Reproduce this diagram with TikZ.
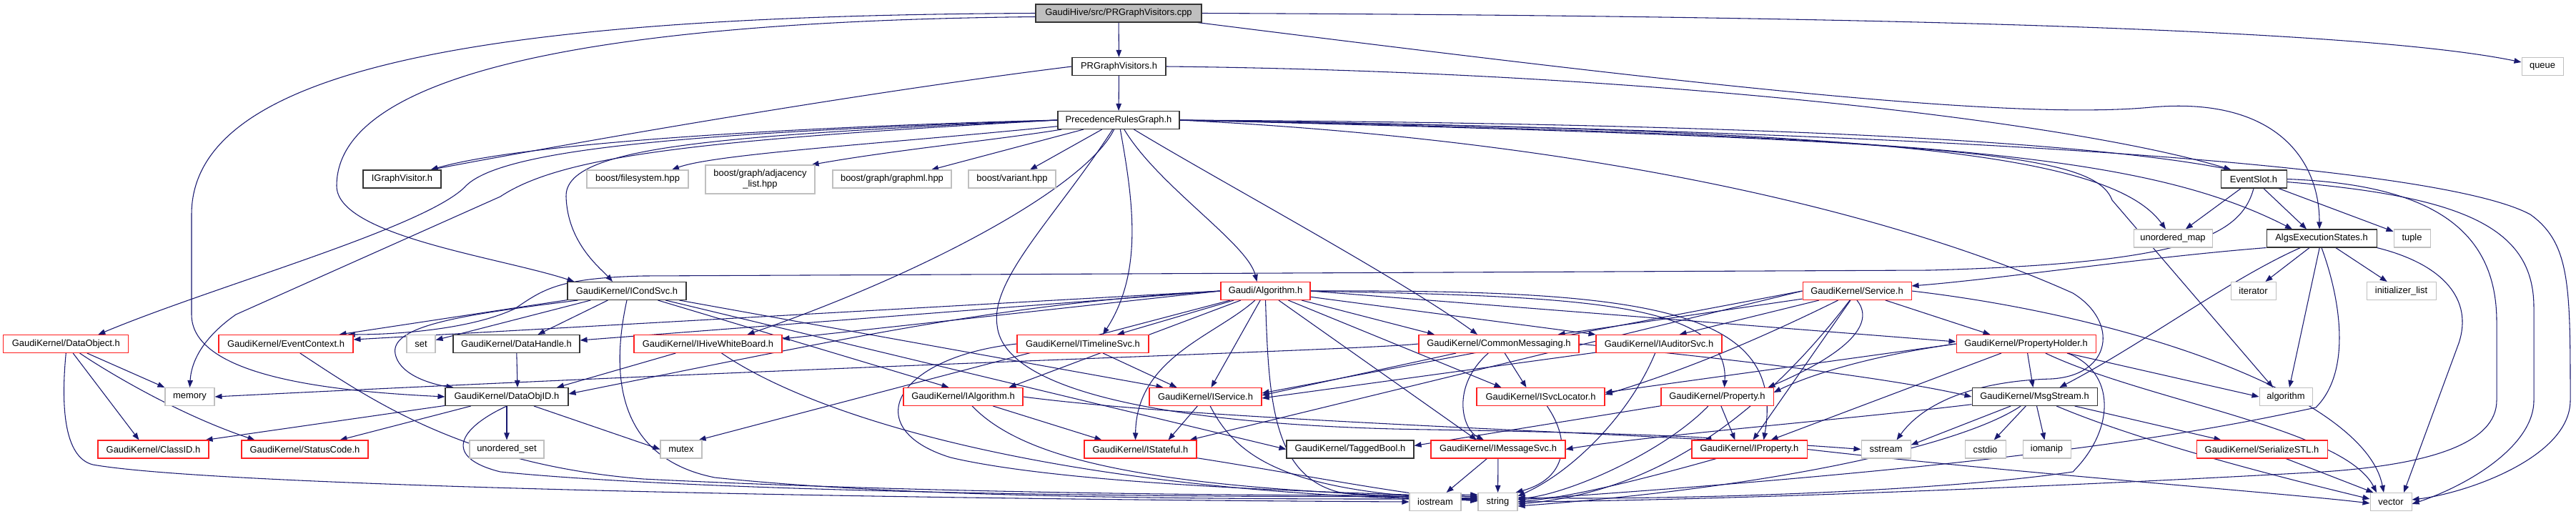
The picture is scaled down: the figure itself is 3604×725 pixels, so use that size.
\documentclass[tikz,border=0pt]{standalone}
\usepackage{fontspec}
\setmainfont{Liberation Sans}
\usetikzlibrary{arrows.meta,calc}
\pgfdeclarelayer{bg}
\pgfdeclarelayer{edgel}
\pgfsetlayers{bg,edgel,main}
\definecolor{edgec}{HTML}{191970}
\definecolor{rbord}{HTML}{FF2020}
\definecolor{gbord}{HTML}{BFBFBF}
\newcommand\dfont{\fontsize{9.7}{11.2}\selectfont}
\newcommand\nd[6]{\node[#1,minimum width={#5*0.75pt}] (#2) at (#3,#4) {#6};}
\tikzset{
  basebox/.style={rectangle, inner sep=0pt, minimum height=18.75pt, font=\dfont, line width=0.8pt, fill=white, text=black, align=center},
  kbox/.style={basebox, draw=black!80},
  rbox/.style={basebox, draw=rbord},
  gbox/.style={basebox, draw=gbord},
  cbox/.style={basebox, draw=black!80, fill=gray!50},
  ed/.style={draw=edgec, line width=0.8pt, -{Triangle[length=7.5pt,width=5.6pt]}}
}
\begin{document}
\begin{tikzpicture}[x=0.75pt,y=-0.75pt]
\begin{pgfonlayer}{bg}
\fill[white] (0,0) rectangle (3604,725);
\end{pgfonlayer}
\useasboundingbox (0,0) rectangle (3604,725);
% row 0-4
\nd{cbox}{cpp}{1565}{18.5}{232}{GaudiHive/src/PRGraphVisitors.cpp}
\nd{kbox}{prgv}{1565.5}{93}{131}{PRGraphVisitors.h}
\nd{gbox}{queue}{3557}{93}{58}{queue}
\nd{kbox}{prg}{1565}{168}{170}{PrecedenceRulesGraph.h}
\nd{kbox}{igv}{562.5}{250.5}{109}{IGraphVisitor.h}
\nd{gbox}{bfs}{892}{250.5}{142}{boost/filesystem.hpp}
\node[gbox,minimum width={153*0.75pt},minimum height=30pt] (badj) at (1063.5,251) {boost/graph/adjacency\\\_list.hpp};
\nd{gbox}{bgml}{1248}{250.5}{166}{boost/graph/graphml.hpp}
\nd{gbox}{bvar}{1416}{250.5}{122}{boost/variant.hpp}
\nd{kbox}{eslot}{3153}{250.5}{92}{EventSlot.h}
\nd{gbox}{umap}{3040}{333.5}{110}{unordered\_map}
\nd{kbox}{aes}{3248}{333.5}{154}{AlgsExecutionStates.h}
\nd{gbox}{tuple}{3374.5}{333.5}{51}{tuple}
% row 5
\nd{kbox}{icond}{877}{407}{166}{GaudiKernel/ICondSvc.h}
\nd{rbox}{galg}{1770.5}{407}{125}{Gaudi/Algorithm.h}
\nd{rbox}{svc}{2598}{407}{152}{GaudiKernel/Service.h}
\nd{gbox}{iter}{3152.5}{407}{63}{iterator}
\nd{gbox}{initl}{3359.5}{407}{97}{initializer\_list}
% row 6
\nd{rbox}{dobj}{92.3}{481}{175}{GaudiKernel/DataObject.h}
\nd{rbox}{evctx}{400}{481}{188}{GaudiKernel/EventContext.h}
\nd{gbox}{set}{589}{481}{40}{set}
\nd{kbox}{dhand}{722.5}{481}{177}{GaudiKernel/DataHandle.h}
\nd{rbox}{ihwb}{990.5}{481}{207}{GaudiKernel/IHiveWhiteBoard.h}
\nd{rbox}{itl}{1515}{481}{184}{GaudiKernel/ITimelineSvc.h}
\nd{rbox}{cmsg}{2097}{481}{224}{GaudiKernel/CommonMessaging.h}
\nd{rbox}{iaud}{2321}{481}{176}{GaudiKernel/IAuditorSvc.h}
\nd{rbox}{phold}{2834.5}{481}{195}{GaudiKernel/PropertyHolder.h}
% row 7
\nd{gbox}{memory}{265.5}{555}{69}{memory}
\nd{kbox}{dobjid}{709}{555}{172}{GaudiKernel/DataObjID.h}
\nd{rbox}{ialg}{1347.5}{555}{167}{GaudiKernel/IAlgorithm.h}
\nd{rbox}{isvc}{1686.5}{555}{157}{GaudiKernel/IService.h}
\nd{rbox}{isvcl}{2155.5}{555}{179}{GaudiKernel/ISvcLocator.h}
\nd{rbox}{prop}{2402.5}{555}{157}{GaudiKernel/Property.h}
\nd{kbox}{msgs}{2846.5}{555}{175}{GaudiKernel/MsgStream.h}
\nd{gbox}{algo}{3198}{555}{74}{algorithm}
% row 8
\nd{rbox}{clsid}{214.5}{628.5}{155}{GaudiKernel/ClassID.h}
\nd{rbox}{stc}{426.5}{628.5}{177}{GaudiKernel/StatusCode.h}
\nd{gbox}{uset}{709}{628.5}{104}{unordered\_set}
\nd{gbox}{mutex}{953}{628.5}{58}{mutex}
\nd{rbox}{istf}{1595.5}{628.5}{157}{GaudiKernel/IStateful.h}
\nd{kbox}{tbool}{1889}{628.5}{178}{GaudiKernel/TaggedBool.h}
\nd{rbox}{imsg}{2096}{628.5}{188}{GaudiKernel/IMessageSvc.h}
\nd{rbox}{iprop}{2447.5}{628.5}{161}{GaudiKernel/IProperty.h}
\nd{gbox}{sstream}{2638.5}{628.5}{69}{sstream}
\nd{gbox}{cstdio}{2777.5}{628.5}{57}{cstdio}
\nd{gbox}{iomanip}{2863.5}{628.5}{67}{iomanip}
\nd{rbox}{serstl}{3164.5}{628.5}{183}{GaudiKernel/SerializeSTL.h}
% row 9
\nd{gbox}{iostream}{2008}{702}{72}{iostream}
\nd{gbox}{string}{2095.5}{702}{55}{string}
\nd{gbox}{vector}{3345}{702}{58}{vector}

\begin{pgfonlayer}{edgel}
% cpp
\draw[ed] (cpp) -- (prgv);
\draw[ed] (cpp.west) .. controls (700,22) and (268,90) .. (268,300) -- (268,440) .. controls (268,530) and (480,548) .. (dobjid.west);
\draw[ed] ($(cpp.west)+(0,5)$) .. controls (800,30) and (471,110) .. (471,260) .. controls (471,330) and (700,360) .. ($(icond.north west)+(10,0)$);
\draw[ed] (cpp.east) .. controls (2600,22) and (3300,40) .. ($(queue.west)+(0,-6)$);
\draw[ed] ($(cpp.south east)+(-6,0)$) .. controls (2300,110) and (2800,170) .. (3010,150) .. controls (3180,135) and (3245,220) .. ($(aes.north)+(-3,0)$);
% prgv
\draw[ed] (prgv) -- (prg);
\draw[ed] (prgv.west) .. controls (1200,130) and (800,200) .. ($(igv.north)+(40,0)$);
\draw[ed] (prgv.east) .. controls (2300,100) and (2900,170) .. ($(eslot.north west)+(15,0)$);
% prg
\draw[ed] (prg.west) .. controls (1200,175) and (750,195) .. ($(igv.north)+(40,0)$);
\draw[ed] (prg) .. controls (1250,200) and (1000,215) .. ($(bfs.north)+(48,0)$);
\draw[ed] (prg) .. controls (1400,195) and (1250,210) .. ($(badj.north east)+(-5,0)$);
\draw[ed] (prg) -- ($(bgml.north)+(55,0)$);
\draw[ed] (prg) -- ($(bvar.north)+(25,0)$);
\draw[ed] (prg.west) .. controls (1000,185) and (700,205) .. (650,262) .. controls (590,320) and (300,400) .. ($(dobj.north)+(45,0)$);
\draw[ed] (prg.west) .. controls (1000,190) and (790,205) .. (792,275) .. controls (794,340) and (840,375) .. ($(icond.north)+(-20,0)$);
\draw[ed] (prg.west) .. controls (1000,195) and (790,215) .. (700,275) -- (330,440) .. controls (290,468) and (268,500) .. (memory.north);
\draw[ed] (prg) .. controls (1520,260) and (1300,380) .. ($(ihwb.north)+(55,0)$);
\draw[ed] (prg) .. controls (1585,280) and (1600,380) .. ($(itl.north)+(28,0)$);
\draw[ed] (prg) .. controls (1620,260) and (1745,340) .. ($(galg.north)+(-12,0)$);
\draw[ed] (prg) .. controls (1700,250) and (1960,390) .. ($(cmsg.north)+(-30,0)$);
\draw[ed] (prg) .. controls (1480,300) and (1385,390) .. (1395,455) .. controls (1405,560) and (1700,597) .. (2000,601) .. controls (2250,605) and (2400,612) .. ($(iprop.north west)+(18,0)$);
\draw[ed] (prg.east) .. controls (2400,172) and (2900,195) .. ($(eslot.north west)+(15,0)$);
\draw[ed] (prg.east) .. controls (2600,182) and (2950,210) .. ($(umap.north)+(-10,0)$);
\draw[ed] (prg.east) .. controls (2700,190) and (3000,215) .. ($(aes.north)+(-41,0)$);
\draw[ed] (prg.east) .. controls (2750,195) and (2930,215) .. (2955,280) -- ($(algo.north)+(-18,0)$);
\draw[ed] (prg.east) .. controls (2800,185) and (3420,235) .. (3540,300) .. controls (3596,340) and (3596,400) .. (3596,560) .. controls (3596,640) and (3450,690) .. ($(vector.east)+(0,-3)$);
\draw[ed] (prg.east) .. controls (2300,200) and (2700,320) .. (2900,410) .. controls (2965,450) and (2955,525) .. (2870,530) .. controls (2760,533) and (2690,565) .. ($(sstream.north)+(15,0)$);
% eslot
\draw[ed] (eslot) -- (umap);
\draw[ed] (eslot) -- ($(aes.north)+(-21,0)$);
\draw[ed] (eslot) -- (tuple);
\draw[ed] (eslot.south) .. controls (3135,330) and (3060,368) .. (2700,378) -- (900,386) .. controls (780,389) and (760,405) .. (720,432) .. controls (660,460) and (560,468) .. ($(evctx.north east)+(-8,0)$);
\draw[ed] (eslot.east) .. controls (3400,258) and (3493,320) .. (3493,450) -- (3493,560) .. controls (3493,620) and (3400,650) .. (3250,660) .. controls (2900,680) and (2400,700) .. (string.east);
\draw[ed] ($(eslot.east)+(0,4)$) .. controls (3450,275) and (3545,320) .. (3545,430) -- (3545,560) .. controls (3545,625) and (3450,680) .. ($(vector.east)+(0,3)$);
% aes
\draw[ed] (aes.south west) .. controls (3000,360) and (2800,390) .. ($(svc.east)+(0,-7)$);
\draw[ed] (aes) .. controls (3120,390) and (3000,480) .. ($(msgs.north)+(35,0)$);
\draw[ed] (aes) -- (iter);
\draw[ed] (aes) -- (initl);
\draw[ed] (aes) -- ($(algo.north)+(5,0)$);
\draw[ed] (aes.south) .. controls (3275,420) and (3290,520) .. (3240,570) .. controls (3100,600) and (2850,650) .. ($(string.east)+(0,-3)$);
\draw[ed] (aes.south east) .. controls (3420,370) and (3460,420) .. (3440,480) -- ($(vector.north)+(18,0)$);
% icond
\draw[ed] (icond) -- ($(evctx.north east)+(-20,0)$);
\draw[ed] (icond) -- (set);
\draw[ed] (icond) -- ($(dhand.north)+(30,0)$);
\draw[ed] ($(icond.south west)+(15,0)$) .. controls (650,440) and (545,455) .. (553,495) .. controls (560,530) and (620,540) .. ($(dobjid.north west)+(12,0)$);
\draw[ed] (icond.south) .. controls (855,520) and (860,640) .. (1000,668) .. controls (1300,700) and (1800,698) .. ($(string.west)+(0,-4)$);
\draw[ed] (icond) -- ($(ialg.north)+(-20,0)$);
\draw[ed] ($(icond.south east)+(-10,0)$) -- ($(isvc.north west)+(20,0)$);
\draw[ed] (icond) -- (tbool.west);
% dhand, ihwb
\draw[ed] (dhand) -- ($(dobjid.north)+(15,0)$);
\draw[ed] (ihwb) -- ($(dobjid.north)+(70,0)$);
\draw[ed] (ihwb) .. controls (1150,590) and (1500,690) .. ($(string.west)+(0,-2)$);
% galg
\draw[ed] (galg.west) -- ($(evctx.east)+(0,-6)$);
\draw[ed] (galg.west) -- ($(dhand.east)+(0,-5)$);
\draw[ed] (galg.west) .. controls (1400,425) and (1200,470) .. ($(dobjid.east)+(0,-4)$);
\draw[ed] (galg.west) -- ($(ihwb.east)+(0,-7)$);
\draw[ed] (galg) -- ($(mutex.north east)+(-5,0)$);
\draw[ed] (galg) -- ($(itl.north)+(48,0)$);
\draw[ed] (galg) -- ($(ialg.north east)+(-20,0)$);
\draw[ed] (galg) -- ($(isvc.north)+(8,0)$);
\draw[ed] (galg) .. controls (1700,470) and (1590,500) .. ($(istf.north)+(-7,0)$);
\draw[ed] (galg.south) .. controls (1775,560) and (1780,670) .. (1880,690) .. controls (1950,697) and (2000,698) .. ($(string.west)+(0,-6)$);
\draw[ed] (galg) -- ($(cmsg.north)+(-90,0)$);
\draw[ed] (galg) -- (iaud.north west);
\draw[ed] (galg) -- ($(isvcl.north)+(-55,0)$);
\draw[ed] (galg) -- ($(imsg.north)+(-30,0)$);
\draw[ed] (galg.east) .. controls (2200,415) and (2420,420) .. ($(prop.north)+(10,0)$);
\draw[ed] (galg.east) .. controls (2300,405) and (2500,430) .. ($(iprop.north)+(20,0)$);
\draw[ed] (galg.east) -- ($(phold.west)+(0,-3)$);
% svc
\draw[ed] (svc) -- ($(cmsg.north east)+(-30,0)$);
\draw[ed] (svc) -- ($(iaud.north east)+(-60,0)$);
\draw[ed] (svc.west) -- ($(isvc.east)+(0,-5)$);
\draw[ed] (svc) .. controls (2450,480) and (2350,520) .. ($(isvcl.east)+(0,-3)$);
\draw[ed] (svc.south) .. controls (2630,460) and (2560,505) .. ($(prop.north east)+(-8,0)$);
\draw[ed] (svc) -- ($(iprop.north)+(5,0)$);
\draw[ed] (svc) -- ($(phold.north)+(-50,0)$);
\draw[ed] (svc.west) -- ($(istf.north east)+(-10,0)$);
\draw[ed] (svc.east) .. controls (3000,445) and (3310,560) .. ($(vector.north)+(-10,0)$);
\draw[ed] (svc) .. controls (2450,600) and (2300,690) .. ($(string.east)+(0,3)$);
% phold
\draw[ed] (phold.west) .. controls (2600,500) and (2520,530) .. ($(prop.east)+(0,-6)$);
\draw[ed] (phold) -- ($(iprop.north)+(30,0)$);
\draw[ed] (phold) -- (msgs);
\draw[ed] (phold) -- (algo.west);
\draw[ed] (phold) .. controls (3000,560) and (3280,600) .. ($(vector.north)+(-20,0)$);
\draw[ed] ($(phold.south east)+(-40,0)$) .. controls (2960,520) and (2960,600) .. (2900,660) .. controls (2700,690) and (2300,700) .. ($(string.east)+(0,-6)$);
\draw[ed] (phold.west) -- ($(isvcl.east)+(0,-6)$);
% msgs
\draw[ed] (msgs) .. controls (2600,585) and (2300,610) .. (imsg.east);
\draw[ed] (msgs) -- ($(sstream.east)+(0,-6)$);
\draw[ed] (msgs) -- (cstdio);
\draw[ed] (msgs) -- (iomanip);
\draw[ed] (msgs) -- ($(serstl.north west)+(35,0)$);
\draw[ed] (msgs) .. controls (3000,620) and (3200,670) .. ($(vector.west)+(0,-4)$);
\draw[ed] (msgs) .. controls (2750,620) and (2500,680) .. ($(string.east)+(0,6)$);
\draw[ed] (serstl) -- ($(vector.north west)+(5,0)$);
% left cluster
\draw[ed] (dobj) -- ($(clsid.north)+(-20,0)$);
\draw[ed] (dobj) .. controls (150,520) and (250,580) .. ($(stc.north)+(-70,0)$);
\draw[ed] (dobj) -- (memory.north west);
\draw[ed] (dobj.south) .. controls (85,570) and (90,640) .. (130,650) .. controls (300,680) and (1200,698) .. (iostream.west);
\draw[ed] (dobjid) -- ($(clsid.north east)+(-5,0)$);
\draw[ed] (dobjid) -- ($(stc.north east)+(-40,0)$);
\draw[ed] (dobjid) -- (uset);
\draw[ed] (dobjid) -- (mutex.west);
\draw[ed] (dobjid.south) .. controls (640,600) and (620,640) .. (700,660) .. controls (1000,690) and (1700,697) .. ($(string.west)+(0,-8)$);
\draw[ed] (evctx) .. controls (520,560) and (650,650) .. (900,670) .. controls (1300,690) and (1800,695) .. ($(string.west)+(0,-10)$);
% middle
\draw[ed] (ialg) -- ($(istf.north west)+(25,0)$);
\draw[ed] (ialg) .. controls (1420,630) and (1550,670) .. (1850,688) .. controls (1950,694) and (2000,698) .. ($(string.west)+(0,-5)$);
\draw[ed] (ialg.east) .. controls (1700,590) and (2300,605) .. (sstream.west);
\draw[ed] (isvc) -- ($(istf.north east)+(-40,0)$);
\draw[ed] (isvc) .. controls (1730,640) and (1800,690) .. ($(string.west)+(0,-3)$);
\draw[ed] (itl) -- ($(isvc.north)+(-40,0)$);
\draw[ed] (itl.west) .. controls (1250,500) and (1200,600) .. (1330,640) .. controls (1500,680) and (1900,690) .. ($(string.west)+(0,-7)$);
\draw[ed] (istf) .. controls (1800,660) and (1950,690) .. ($(string.west)+(0,-1)$);
\draw[ed] (cmsg) -- ($(isvcl.north)+(-20,0)$);
\draw[ed] (cmsg) .. controls (2030,540) and (2045,600) .. ($(imsg.north)+(-20,0)$);
\draw[ed] (cmsg.west) .. controls (1900,490) and (1200,510) .. (memory.east);
\draw[ed] (cmsg) -- ($(isvc.east)+(0,-2)$);
\draw[ed] (cmsg.east) .. controls (2450,505) and (2650,530) .. (msgs.west);
\draw[ed] (iaud) -- ($(isvc.east)+(0,2)$);
\draw[ed] (iaud) .. controls (2280,580) and (2200,660) .. ($(string.east)+(0,-8)$);
\draw[ed] (isvcl) .. controls (2200,620) and (2190,670) .. ($(string.north east)+(-3,0)$);
\draw[ed] (imsg) -- (iostream);
\draw[ed] (imsg) -- (string);
\draw[ed] (prop) -- ($(tbool.east)+(0,-5)$);
\draw[ed] (prop) -- ($(iprop.north)+(-20,0)$);
\draw[ed] (prop) .. controls (2330,630) and (2200,690) .. ($(string.east)+(0,-4)$);
\draw[ed] (iprop) .. controls (2300,670) and (2200,695) .. (string.east);
\draw[ed] (iprop.east) .. controls (2800,660) and (3200,690) .. ($(vector.west)+(0,2)$);
\end{pgfonlayer}
\end{tikzpicture}
\end{document}
